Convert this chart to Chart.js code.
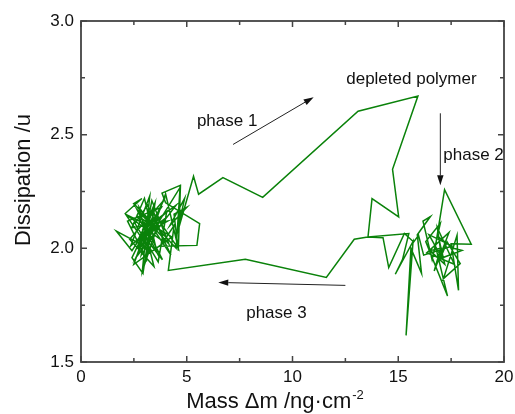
<!DOCTYPE html>
<html>
<head>
<meta charset="utf-8">
<script src="https://cdn.jsdelivr.net/npm/chart.js@4.4.1/dist/chart.umd.min.js"></script>
<style>
  html, body { margin: 0; padding: 0; background: #fff; }
  #wrap { width: 515px; height: 414px; position: relative; }
</style>
</head>
<body>
<div id="wrap"><canvas id="c" width="515" height="414"></canvas></div>
<script>
// ---- data ----
const massX = [
  2.9,3.3,2.6,3.8,2.2,3.1,3.5,2.8,4.1,2.4,3.0,3.6,2.7,4.3,2.5,3.4,3.9,2.1,3.2,4.5,
  2.6,3.9,2.3,3.45,2.75,4.25,3.15,2.55,3.65,4.05,2.35,3.25,
  2.9,3.7,4.6,4.0,3.3,4.7,4.6,4.4,5.0,4.2,4.9,4.5,
  5.32,5.56,6.71,8.59,13.10,15.93,14.73,15.02,13.76,13.57,
  15.5,15.2,14.86,15.7,15.37,15.6,16.1,15.9,16.52,16.17,16.6,16.99,16.3,17.33,16.76,
  17.19,18.45,17.5,17.85,17.78,17.14,17.93,17.31,16.99,18.01,17.6,16.9,17.2,16.5,17.0,
  16.7,17.4,16.35,17.65,16.85,17.05,16.45,17.55,
  16.2,15.96,15.73,15.29,14.55,14.28,13.55,12.92,
  11.6,7.77,4.13,
  4.4,3.75,5.48,5.61,4.0,3.83,4.69,4.5,3.5,2.49,2.88,2.09,3.2,1.67,2.41,3.04,2.41,
  2.93,3.3,2.7,3.6,3.0,3.85,2.65,4.15,3.35,2.85,3.95,3.1
];
const dissipationY = [
  2.08,2.15,2.02,2.18,2.12,1.95,2.20,2.05,2.12,2.09,2.22,1.98,2.14,2.05,1.93,2.17,2.03,2.15,2.10,2.19,
  1.96,2.21,2.04,1.92,2.18,1.97,2.19,2.11,1.94,2.16,2.01,2.23,
  1.90,2.12,2.00,2.24,2.06,2.27,1.99,2.15,2.18,2.10,2.22,2.05,
  2.317,2.238,2.311,2.224,2.603,2.670,2.348,2.138,2.219,2.050,
  2.065,1.95,1.886,2.03,1.617,2.00,1.89,2.06,2.14,2.12,1.95,2.11,2.03,1.79,2.01,
  2.258,2.018,2.02,1.815,2.057,1.867,1.933,2.028,1.955,1.991,2.00,2.05,1.93,1.99,2.00,
  1.90,2.07,1.98,1.93,2.09,1.96,2.06,2.01,
  1.97,2.057,2.028,2.065,1.915,2.047,2.050,2.040,
  1.872,1.952,1.903,
  2.10,2.009,2.013,2.109,2.20,2.243,2.277,2.00,2.10,2.197,2.219,2.153,2.00,2.076,1.99,2.08,1.959,
  1.889,2.12,2.00,2.15,2.05,1.95,2.17,2.02,2.21,1.97,2.13,2.07
];
const xMajorTicks = [0, 5, 10, 15, 20];
const xMinorTicks = [2.5, 7.5, 12.5, 17.5];
const yMajorTicks = [1.5, 2.0, 2.5, 3.0];
const yMinorTicks = [1.75, 2.25, 2.75];
const xTitle = "Mass \u0394m /ng\u00B7cm";
const xTitleSup = "-2";
const yTitle = "Dissipation /u";

// annotation texts and arrows (data coordinates)
const noteTexts = ["phase 1", "depleted polymer", "phase 2", "phase 3"];
const noteX = [5.48, 12.54, 17.13, 7.81];
const noteY = [2.560, 2.744, 2.409, 1.713];
const arrowFromX = [7.19, 16.99, 12.50];
const arrowFromY = [2.457, 2.594, 1.837];
const arrowToX = [11.00, 16.99, 6.49];
const arrowToY = [2.665, 2.277, 1.850];

// ---- chart ----
const FONT = "'Liberation Sans', Arial, sans-serif";
const points = massX.map((x, i) => ({ x: x, y: dissipationY[i] }));

const framePlugin = {
  id: 'frame',
  afterDatasetsDraw(chart) {
    const { ctx, chartArea: a, scales: { x, y } } = chart;
    ctx.save();
    // annotations
    ctx.fillStyle = '#111';
    ctx.font = '17px ' + FONT;
    ctx.textAlign = 'left';
    ctx.textBaseline = 'middle';
    noteTexts.forEach((t, i) => {
      ctx.fillText(t, x.getPixelForValue(noteX[i]), y.getPixelForValue(noteY[i]));
    });
    ctx.strokeStyle = '#222';
    ctx.lineWidth = 1;
    arrowFromX.forEach((_, i) => {
      const x0 = x.getPixelForValue(arrowFromX[i]), y0 = y.getPixelForValue(arrowFromY[i]);
      const x1 = x.getPixelForValue(arrowToX[i]), y1 = y.getPixelForValue(arrowToY[i]);
      const ang = Math.atan2(y1 - y0, x1 - x0);
      const hl = 10, hw = 3.2;
      const bx = x1 - hl * Math.cos(ang), by = y1 - hl * Math.sin(ang);
      ctx.beginPath(); ctx.moveTo(x0, y0); ctx.lineTo(bx, by); ctx.stroke();
      ctx.beginPath();
      ctx.moveTo(x1, y1);
      ctx.lineTo(bx + hw * Math.sin(ang), by - hw * Math.cos(ang));
      ctx.lineTo(bx - hw * Math.sin(ang), by + hw * Math.cos(ang));
      ctx.closePath(); ctx.fill();
    });
    // frame
    ctx.strokeStyle = '#444';
    ctx.lineWidth = 1.8;
    ctx.strokeRect(a.left, a.top, a.right - a.left, a.bottom - a.top);
    // inward ticks
    ctx.lineWidth = 1.5;
    const tick = (vals, len) => {
      vals.forEach(v => {
        const px = x.getPixelForValue(v);
        ctx.beginPath();
        ctx.moveTo(px, a.bottom); ctx.lineTo(px, a.bottom - len);
        ctx.moveTo(px, a.top); ctx.lineTo(px, a.top + len);
        ctx.stroke();
      });
    };
    const tickY = (vals, len) => {
      vals.forEach(v => {
        const py = y.getPixelForValue(v);
        ctx.beginPath();
        ctx.moveTo(a.left, py); ctx.lineTo(a.left + len, py);
        ctx.moveTo(a.right, py); ctx.lineTo(a.right - len, py);
        ctx.stroke();
      });
    };
    tick(xMajorTicks, 6); tick(xMinorTicks, 4);
    tickY(yMajorTicks, 6); tickY(yMinorTicks, 4);
    // axis titles
    ctx.fillStyle = '#111';
    ctx.font = '22px ' + FONT;
    ctx.textBaseline = 'alphabetic';
    ctx.textAlign = 'left';
    const mainW = ctx.measureText(xTitle).width;
    ctx.font = '13px ' + FONT;
    const supW = ctx.measureText(xTitleSup).width;
    const tx = 274.5 - (mainW + supW) / 2;
    ctx.font = '22px ' + FONT;
    ctx.fillText(xTitle, tx, 408);
    ctx.font = '13px ' + FONT;
    ctx.fillText(xTitleSup, tx + mainW + 1, 399);
    ctx.save();
    ctx.translate(30, 180);
    ctx.rotate(-Math.PI / 2);
    ctx.font = '22px ' + FONT;
    ctx.textAlign = 'center';
    ctx.fillText(yTitle, 0, 0);
    ctx.restore();
    ctx.restore();
  }
};

new Chart(document.getElementById('c'), {
  type: 'scatter',
  data: {
    datasets: [{
      data: points,
      showLine: true,
      borderColor: '#0a820a',
      borderWidth: 1.5,
      pointRadius: 0,
      tension: 0,
      fill: false
    }]
  },
  options: {
    responsive: false,
    animation: false,
    devicePixelRatio: 1,
    layout: { padding: { top: 21, right: 11, left: 0, bottom: 0 } },
    plugins: { legend: { display: false }, tooltip: { enabled: false } },
    scales: {
      x: {
        type: 'linear', min: 0, max: 20,
        afterBuildTicks: s => { s.ticks = xMajorTicks.map(v => ({ value: v })); },
        afterFit: s => { s.height = 52; s.paddingLeft = 0; s.paddingRight = 0; },
        grid: { display: false, drawTicks: false },
        border: { display: false },
        ticks: { padding: 5, color: '#111', font: { family: FONT, size: 17 }, callback: v => String(v) }
      },
      y: {
        type: 'linear', min: 1.5, max: 3.0,
        afterBuildTicks: s => { s.ticks = yMajorTicks.map(v => ({ value: v })); },
        afterFit: s => { s.width = 81; s.paddingTop = 0; s.paddingBottom = 0; },
        grid: { display: false, drawTicks: false },
        border: { display: false },
        ticks: { padding: 7, color: '#111', font: { family: FONT, size: 17 }, callback: v => Number(v).toFixed(1) }
      }
    }
  },
  plugins: [framePlugin]
});
</script>
</body>
</html>
